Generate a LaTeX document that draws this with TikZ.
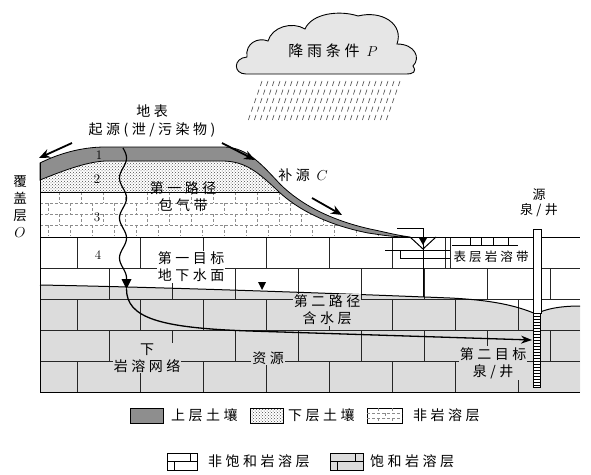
\documentclass[tikz,border=0pt]{standalone}
\usepackage{fontspec}
\newfontfamily\cjk[LetterSpace=25]{Noto Sans CJK SC}
\usetikzlibrary{arrows.meta,patterns}
\definecolor{soilTop}{HTML}{8E8E8E}
\definecolor{satGray}{HTML}{DCDCDC}
\definecolor{cloudGray}{HTML}{E6E6E6}

% ground surface, from the left edge to the spring
\def\surfacetop{(40,163) .. controls (62,152) and (85,147) .. (105,147) -- (225,147)
  .. controls (248,148) and (262,165) .. (280,184)
  .. controls (300,204) and (330,220) .. (370,229)
  .. controls (385,232) and (395,235) .. (410,237)}

\begin{document}
\begin{tikzpicture}[x=1pt,y=-1pt,
  lbl/.style={font=\cjk\fontsize{14}{17}\selectfont, inner sep=1pt, align=center},
  smalllbl/.style={font=\cjk\fontsize{12.5}{15}\selectfont, inner sep=1pt, align=center},
  numlbl/.style={font=\fontsize{13}{15}\selectfont, inner sep=1pt},
  brick/.style={draw=black!85, line width=0.8pt},
  nonkarst/.style={draw=black!45, line width=0.5pt, dash pattern=on 3pt off 2pt},
  bigarrow/.style={line width=1.8pt, -{Stealth[length=11pt,width=9pt]}},
  flow/.style={line width=1.3pt, -{Stealth[length=11pt,width=8pt]}},
  rain/.style={draw=black!70, line width=0.6pt},
  wtmark/.style={fill=black, draw=none}]

\useasboundingbox (0,0) rectangle (591,474);

% ---------- cloud and rain ----------
\draw[fill=cloudGray, line width=0.9pt] (246,74) .. controls (233,74) and (233,58) .. (247,57)
  .. controls (245,43) and (258,37) .. (268,41)
  .. controls (272,27) and (292,21) .. (305,29)
  .. controls (312,13) and (340,10) .. (358,16)
  .. controls (382,10) and (404,24) .. (397,44)
  .. controls (415,44) and (421,58) .. (413,66)
  .. controls (417,72) and (413,74) .. (406,74) -- cycle;
\node[lbl, font=\cjk\fontsize{15}{17}\selectfont] (rainlbl) at (333,51) {降雨条件 $P$};
\foreach \r in {0,...,4}
  \foreach \c in {0,...,23}
    \draw[rain] ({262+6*\c-3*\r},{81+8.5*\r}) -- ++(-1.6,5);

% ---------- saturated zone ----------
\fill[satGray] (40,285) .. controls (150,287) and (300,292) .. (450,298)
  .. controls (490,300) and (515,305) .. (536,314)
  .. controls (545,309) and (560,306) .. (580,306) -- (580,392) -- (40,392) -- cycle;

% ---------- karst bricks ----------
\foreach \yy in {237,268,299,330,361,392}
  \draw[brick] (40,\yy) -- (580,\yy);
\foreach \xx in {77,140,203,266,329,392,445,450}
  \draw[brick] (\xx,237) -- (\xx,268);
\foreach \xx in {109,172,235,298,361,424,487,550}
  {\draw[brick] (\xx,268) -- (\xx,299); \draw[brick] (\xx,330) -- (\xx,361);}
\foreach \xx in {77,140,203,266,329,392,455,518}
  {\draw[brick] (\xx,299) -- (\xx,330); \draw[brick] (\xx,361) -- (\xx,392);}

% water table
\draw[line width=1pt] (40,285) .. controls (150,287) and (300,292) .. (450,298)
  .. controls (490,300) and (515,305) .. (536,314)
  .. controls (545,309) and (560,306) .. (580,306);
\fill[wtmark] (258,282) -- (266,282) -- (262,290) -- cycle;

% ---------- soil cover ----------
\fill[white] \surfacetop -- (40,237) -- cycle;
\begin{scope}
  \clip \surfacetop -- (40,237) -- cycle;
  \clip (40,192) rectangle (420,237);
  \foreach \yy in {203,214,225}
    \draw[nonkarst] (40,\yy) -- (420,\yy);
  \foreach \yy [count=\i] in {192,203,214,225}
    \foreach \k in {0,...,17}
      \draw[nonkarst] ({48+22*\k+11*mod(\i,2)},\yy) -- ++(0,11);
\end{scope}
\begin{scope}
  \clip \surfacetop -- (40,237) -- cycle;
  \fill[pattern=crosshatch dots, pattern color=black!70] (40,140) rectangle (420,192);
  \draw[line width=0.9pt] (40,192) -- (420,192);
\end{scope}

% upper soil band
\draw[fill=soilTop, line width=0.8pt] \surfacetop
  .. controls (392,237) and (382,235) .. (368,233)
  .. controls (328,225) and (298,210) .. (278,191)
  .. controls (258,172) and (245,161) .. (222,161) -- (105,161)
  .. controls (85,162) and (60,172) .. (40,180) -- cycle;

% block outline
\draw[line width=1pt] (40,163) -- (40,392) -- (580,392);
\draw[line width=1pt] (40,237) -- (580,237);

% ---------- spring and epikarst ----------
\draw[line width=1pt] (397,228) -- (423,228) -- (423,297);
\draw[line width=1pt] (410,237) -- (423,249) -- (436,237);
\fill[wtmark] (419,238) -- (427,238) -- (423,245) -- cycle;
\draw[line width=1pt] (385,250) -- (450,250);
\draw[line width=1pt] (400,250) -- (400,258) -- (450,258);
\draw[line width=1pt] (452,245) -- (518,245);
\foreach \xx in {470,481,493,508}
  \draw[line width=1pt] (\xx,237) -- (\xx,245);
\node[smalllbl, fill=white] (epi) at (491,257) {表层岩溶带};

% ---------- well ----------
\draw[fill=white, line width=0.8pt] (533,229) rectangle (541,313);
\draw[fill=white, line width=0.8pt] (533,313) rectangle (540,387);
\foreach \yy in {316,319,...,385}
  \draw[line width=0.7pt] (533,\yy) -- (540,\yy);

% ---------- flow paths ----------
\draw[line width=1.2pt] plot[domain=148:278, samples=90, smooth] ({123+3.5*sin(9*(\x-148))},\x) -- (126.5,281);
\fill[wtmark] (121.5,279) -- (131.5,279) -- (126.5,289) -- cycle;
\coordinate (flowstart) at (126.5,289);
\coordinate (flowend) at (532,340);
\draw[flow] (flowstart) .. controls (126.5,318) and (160,328) .. (250,331) -- (flowend);

\coordinate (la1) at (72,143); \coordinate (la2) at (39,158);
\coordinate (ra1) at (222,143); \coordinate (ra2) at (255,160);
\coordinate (ca1) at (312,198); \coordinate (ca2) at (342,215);
\draw[bigarrow] (la1) -- (la2);
\draw[bigarrow] (ra1) -- (ra2);
\draw[bigarrow] (ca1) -- (ca2);

% ---------- labels ----------
\node[lbl] (surf) at (152,111) {地表};
\node[lbl] (src) at (152,130) {起源(泄/污染物)};
\node[lbl, align=center, font=\cjk\fontsize{13.5}{17}\selectfont] (cover) at (20,207) {覆\\盖\\层\\$O$};
\node[lbl] (conc) at (303,175) {补源 $C$};
\node[lbl, font=\cjk\fontsize{13}{15}\selectfont] (well) at (539,203) {源\\泉/井};

\node[numlbl] (n1) at (99,155) {1};
\node[numlbl] (n2) at (97,179) {2};
\node[numlbl] (n3) at (97,217) {3};
\node[numlbl] (n4) at (98,255) {4};

\node[lbl] (path1) at (183,197) {第一路径\\包气带};
\node[lbl, fill=white] (target1) at (191,267) {第一目标\\地下水面};
\node[lbl, fill=satGray] (path2) at (327,310) {第二路径\\含水层};
\node[lbl, fill=satGray] (net) at (147,358) {下\\岩溶网络};
\node[lbl, fill=satGray] (res) at (268,358) {资源};
\node[lbl, fill=satGray] (target2) at (493,363) {第二目标\\泉/井};

% ---------- legend ----------
\draw[fill=soilTop, line width=0.8pt] (130,408) rectangle (163,423);
\node[lbl, anchor=west] (lg1) at (170,415.5) {上层土壤};
\draw[pattern=crosshatch dots, pattern color=black!70, line width=0.8pt] (250,408) rectangle (283,423);
\node[lbl, anchor=west] (lg2) at (287,415.5) {下层土壤};
\draw[line width=0.8pt] (367,408) rectangle (402,423);
\draw[nonkarst] (367,413) -- (402,413);
\draw[nonkarst] (367,418) -- (402,418);
\draw[nonkarst] (378,408) -- (378,413); \draw[nonkarst] (392,408) -- (392,413);
\draw[nonkarst] (385,413) -- (385,418);
\draw[nonkarst] (378,418) -- (378,423); \draw[nonkarst] (392,418) -- (392,423);
\node[lbl, anchor=west] (lg3) at (412,415.5) {非岩溶层};

\draw[line width=0.8pt] (167,453) rectangle (197,470);
\draw[line width=0.8pt] (167,461.5) -- (197,461.5) (190,453) -- (190,461.5) (174,461.5) -- (174,470);
\node[lbl, anchor=west] (lg4) at (207,461.5) {非饱和岩溶层};
\draw[fill=satGray, line width=0.8pt] (330,453) rectangle (363,470);
\draw[line width=0.8pt] (330,461.5) -- (363,461.5) (355,453) -- (355,461.5) (337,461.5) -- (337,470);
\node[lbl, anchor=west] (lg5) at (369,461.5) {饱和岩溶层};

\end{tikzpicture}
\end{document}
